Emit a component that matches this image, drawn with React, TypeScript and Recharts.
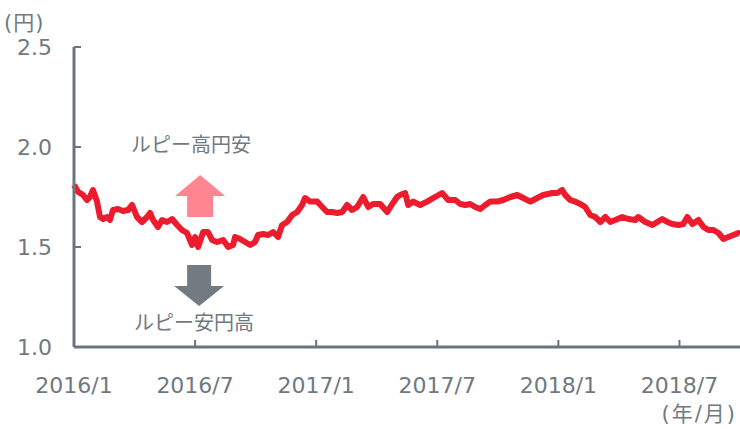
import { LineChart, Line, XAxis, YAxis, ReferenceDot } from "recharts";

// months since 2016/1 and INR/JPY rate
const months = [
  0, 0.2, 0.45, 0.64, 0.79, 0.94, 1.14, 1.29, 1.44, 1.64, 1.78, 1.93, 2.18, 2.43, 2.68, 2.88,
  3.12, 3.37, 3.62, 3.77, 3.92, 4.16, 4.36, 4.61, 4.86, 5.11, 5.35, 5.6, 5.85, 6.0, 6.15, 6.4,
  6.64, 6.84, 7.09, 7.39, 7.64, 7.88, 7.98, 8.23, 8.48, 8.73, 8.97, 9.12, 9.37, 9.62, 9.87, 10.11,
  10.31, 10.56, 10.81, 11.06, 11.3, 11.45, 11.7, 12.05, 12.3, 12.54, 12.79, 13.04, 13.29, 13.53,
  13.78, 14.03, 14.33, 14.58, 14.82, 15.17, 15.52, 15.77, 16.01, 16.16, 16.41, 16.56, 16.81, 17.15,
  17.5, 17.8, 18.24, 18.54, 18.89, 19.14, 19.39, 19.63, 19.88, 20.13, 20.38, 20.62, 20.97, 21.27,
  21.62, 21.96, 22.26, 22.61, 22.95, 23.25, 23.7, 23.95, 24.19, 24.34, 24.59, 24.84, 25.09, 25.33,
  25.58, 25.83, 26.08, 26.33, 26.57, 26.82, 27.17, 27.47, 27.81, 27.96, 28.31, 28.66, 28.9, 29.15,
  29.4, 29.65, 29.95, 30.19, 30.39, 30.64, 30.94, 31.19, 31.43, 31.68, 31.93, 32.18, 32.42, 32.67,
  32.92, 33,
];
const rates = [
  1.81, 1.776, 1.76, 1.735, 1.75, 1.785, 1.727, 1.65, 1.64, 1.65, 1.635, 1.685, 1.69, 1.68, 1.685, 1.71,
  1.65, 1.625, 1.65, 1.67, 1.635, 1.6, 1.635, 1.625, 1.64, 1.61, 1.585, 1.57, 1.51, 1.55, 1.5, 1.575,
  1.575, 1.535, 1.525, 1.535, 1.5, 1.51, 1.55, 1.54, 1.525, 1.51, 1.525, 1.56, 1.565, 1.56, 1.575, 1.55,
  1.61, 1.625, 1.66, 1.675, 1.71, 1.745, 1.727, 1.727, 1.7, 1.675, 1.675, 1.67, 1.675, 1.71,
  1.685, 1.7, 1.75, 1.7, 1.715, 1.715, 1.675, 1.715, 1.75, 1.76, 1.77, 1.71, 1.727, 1.71,
  1.727, 1.745, 1.77, 1.735, 1.735, 1.715, 1.71, 1.715, 1.7, 1.69, 1.71, 1.727, 1.727, 1.735,
  1.75, 1.76, 1.745, 1.727, 1.745, 1.76, 1.77, 1.77, 1.785, 1.76, 1.735, 1.727, 1.715, 1.7,
  1.66, 1.65, 1.625, 1.65, 1.625, 1.635, 1.65, 1.64, 1.635, 1.65, 1.625, 1.61, 1.625, 1.64,
  1.625, 1.615, 1.61, 1.615, 1.65, 1.615, 1.635, 1.6, 1.585, 1.585, 1.57, 1.54, 1.55, 1.56,
  1.57, 1.565,
];

const tickMonths = [0, 6, 12, 18, 24, 30];
const tickLabels = ["2016/1", "2016/7", "2017/1", "2017/7", "2018/1", "2018/7"];
const yTicks = [1.0, 1.5, 2.0, 2.5];

const data = months.map((m, i) => ({ m, rate: rates[i] }));

const gray = "#6b747c";
const textGray = "#707980";
const font = "'DejaVu Sans', 'Noto Sans CJK JP', sans-serif";
const jpFont = "'Noto Sans CJK JP', sans-serif";

function UpArrow({ cx, cy }: any) {
  return (
    <polygon
      points={`${cx},${cy - 21} ${cx + 25},${cy} ${cx + 13},${cy} ${cx + 13},${cy + 21} ${cx - 13},${cy + 21} ${cx - 13},${cy} ${cx - 25},${cy}`}
      fill="#ff8591"
    />
  );
}

function DownArrow({ cx, cy }: any) {
  return (
    <polygon
      points={`${cx - 12},${cy - 21} ${cx + 12},${cy - 21} ${cx + 12},${cy} ${cx + 25},${cy} ${cx},${cy + 20} ${cx - 25},${cy} ${cx - 12},${cy}`}
      fill="#737b82"
    />
  );
}

function Note(text: string) {
  return ({ cx, cy }: any) => (
    <text x={cx} y={cy} dy="0.35em" textAnchor="middle" fontSize={20} fill={textGray} fontFamily={jpFont}>
      {text}
    </text>
  );
}

export default function App() {
  return (
    <div style={{ position: "absolute", left: 0, top: 0, width: 740, height: 429, background: "#fff" }}>
      <LineChart width={740} height={429} data={data} margin={{ top: 47, right: 0, left: 0, bottom: 0 }}>
        <XAxis
          dataKey="m"
          type="number"
          domain={[0, 33]}
          ticks={tickMonths}
          interval={0}
          tickFormatter={(v) => tickLabels[tickMonths.indexOf(v)]}
          height={82}
          tickSize={-7}
          tickMargin={37}
          axisLine={{ stroke: gray, strokeWidth: 3 }}
          tickLine={{ stroke: gray, strokeWidth: 2 }}
          tick={{ fill: textGray, fontSize: 22, fontFamily: font }}
        />
        <YAxis
          type="number"
          domain={[1, 2.5]}
          ticks={yTicks}
          interval={0}
          tickFormatter={(v) => v.toFixed(1)}
          width={74}
          tickSize={-7}
          tickMargin={29}
          axisLine={{ stroke: gray, strokeWidth: 3 }}
          tickLine={{ stroke: gray, strokeWidth: 2 }}
          tick={{ fill: textGray, fontSize: 22, fontFamily: font }}
        />
        <Line
          dataKey="rate"
          type="linear"
          stroke="#ec1c2e"
          strokeWidth={6}
          strokeLinejoin="round"
          dot={false}
          isAnimationActive={false}
        />
        <ReferenceDot x={6.25} y={1.755} shape={UpArrow} />
        <ReferenceDot x={6.2} y={1.305} shape={DownArrow} />
        <ReferenceDot x={5.8} y={2.01} shape={Note("ルピー高円安")} />
        <ReferenceDot x={5.95} y={1.12} shape={Note("ルピー安円高")} />
      </LineChart>
      <div style={{ position: "absolute", left: 4, top: 13, fontSize: 21, lineHeight: "21px", color: textGray, fontFamily: font, letterSpacing: 1 }}>
        (円)
      </div>
      <div style={{ position: "absolute", right: 3, top: 404, fontSize: 21, lineHeight: "21px", color: textGray, fontFamily: font, letterSpacing: 2 }}>
        (年/月)
      </div>
    </div>
  );
}
